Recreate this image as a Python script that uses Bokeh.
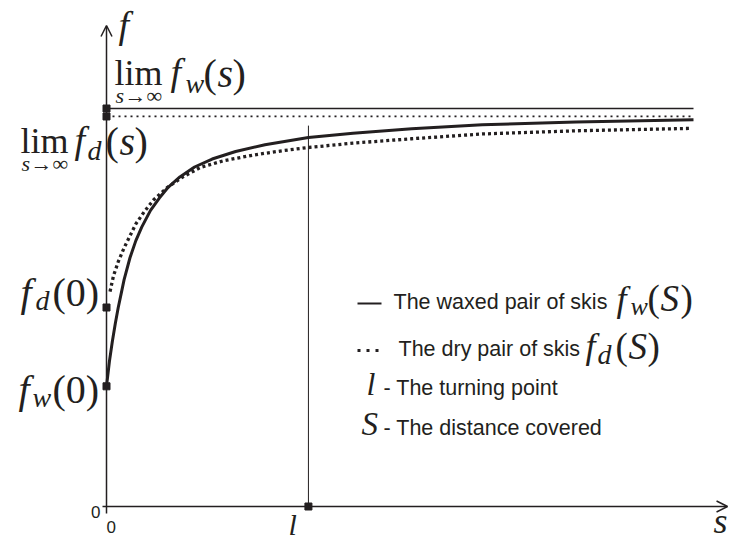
from bokeh.plotting import figure
from bokeh.models import Range1d, Arrow, OpenHead
from bokeh.embed import file_html
from bokeh.resources import INLINE
from bokeh.core.properties import value

# ---------------- data ----------------
s_waxed = [0, 0.5, 1, 1.5, 2, 2.5, 3, 4, 5, 6, 7.5, 9, 10.5, 12.5, 15, 18, 22, 27,
           34.4, 42, 52, 64, 80, 100]
f_waxed = [30.2, 36.5, 41.5, 46, 50, 53.5, 57, 62.5, 66.8, 70.2, 74.4, 77.5, 80.2,
           82.8, 85.3, 87.3, 89.2, 90.9, 92.7, 93.8, 94.9, 95.9, 96.6, 97.2]
s_dry = [0.6, 1.2, 2, 3, 4, 5, 6.5, 8, 10.4, 13, 16, 20, 25, 30, 34.4, 42, 52, 64,
         80, 99.5]
f_dry = [54, 58, 61.5, 65, 68, 71, 74.2, 77, 80.2, 82.8, 85.2, 86.9, 88.3, 89.4,
         90.2, 91.3, 92.4, 93.6, 94.4, 95.0]
lim_waxed = 100.0
lim_dry = 98.0
f_waxed_0 = 30.2
f_dry_0 = 50.0
s_turn = 34.4
turn_line_top = 95.7
s_end = 100.0
s_axis_end = 105.8
f_axis_end = 120.85
tick_labels = ["0"]

INK = "#231f20"
SERIF = "Liberation Serif"
SANS = "Liberation Sans"

W, H = 729, 544
X0 = -106 / 5.87
X1 = X0 + W / 5.87
Y1 = 506 / 3.98
Y0 = Y1 - H / 3.98


def px(xp):
    return X0 + xp / W * (X1 - X0)


def py(yp):
    return Y1 - yp / H * (Y1 - Y0)


p = figure(width=W, height=H, x_range=Range1d(X0, X1), y_range=Range1d(Y0, Y1),
           output_backend="svg", toolbar_location=None, min_border=0,
           x_axis_type=None, y_axis_type=None, outline_line_color=None,
           background_fill_color="white", border_fill_color="white")

# axes with arrows
p.add_layout(Arrow(end=OpenHead(size=11, line_width=1.5, line_color=INK),
                   x_start=0, y_start=py(513), x_end=0, y_end=f_axis_end,
                   line_width=1.5, line_color=INK))
p.add_layout(Arrow(end=OpenHead(size=11, line_width=1.5, line_color=INK),
                   x_start=px(102), y_start=0, x_end=s_axis_end, y_end=0,
                   line_width=1.5, line_color=INK))

# asymptotes
p.line([0, s_end], [lim_waxed, lim_waxed], line_width=1.5, line_color=INK)
p.line([0, s_end], [lim_dry, lim_dry], line_width=1.7, line_color=INK, line_dash="2 4")

# turning point line
p.line([s_turn, s_turn], [0, turn_line_top], line_width=1, line_color=INK)

# curves
p.line(s_waxed, f_waxed, line_width=3, line_color=INK)
p.line(s_dry, f_dry, line_width=3.3, line_color=INK, line_dash="3 3")

# markers
p.scatter([0, 0, 0, 0, s_turn], [lim_waxed, lim_dry, f_dry_0, f_waxed_0, 0],
          marker="square", size=7, color=INK)

BASE_SHIFT = 0.35


def txt(t, xp, yp, size, font=SERIF, style="normal", align="left"):
    p.text(x=[px(xp)], y=[py(yp - BASE_SHIFT * size)], text=[t], text_font=value(font),
           text_font_size=f"{size}px", text_font_style=style, text_align=align,
           text_baseline="alphabetic", text_color=INK)


# axis names
txt("f", 118, 38, 38, style="italic")
txt("l", 288, 534, 30, style="italic")
txt("s", 713, 533, 36, style="italic")

# tick labels
txt(tick_labels[0], 100, 517, 17, font=SANS, align="right")
txt(tick_labels[0], 106, 532, 17, font=SANS)

# lim f_w(s)
txt("lim", 114, 85, 36)
txt("s", 115, 103, 22, style="italic")
txt("\u2192\u221e", 124, 103, 22)
txt("f", 170, 85, 38, style="italic")
txt("w", 185, 93, 28, style="italic")
txt("(", 203, 87, 40)
txt("s", 217, 87, 40, style="italic")
txt(")", 232, 87, 40)

# lim f_d(s)
txt("lim", 20, 153, 36)
txt("s", 21, 171, 22, style="italic")
txt("\u2192\u221e", 30, 171, 22)
txt("f", 74, 153, 38, style="italic")
txt("d", 87, 160, 28, style="italic")
txt("(", 105, 155, 40)
txt("s", 119, 155, 40, style="italic")
txt(")", 134, 155, 40)

# f_d(0)
txt("f", 20, 306, 40, style="italic")
txt("d", 35, 310, 28, style="italic")
txt("(0)", 52, 306, 40)

# f_w(0)
txt("f", 18, 403, 40, style="italic")
txt("w", 32, 407, 28, style="italic")
txt("(0)", 52, 403, 40)

# legend
p.line([px(357), px(381)], [py(303), py(303)], line_width=2, line_color=INK)
txt("The waxed pair of skis", 393, 309, 21.5, font=SANS)
txt("f", 616, 311, 36, style="italic")
txt("w", 630, 315, 26, style="italic")
txt("(", 647, 311, 37)
txt("S", 660, 311, 37, style="italic")
txt(")", 680, 311, 37)

p.line([px(357), px(381)], [py(350), py(350)], line_width=3, line_color=INK, line_dash="3 6")
txt("The dry pair of skis", 398, 356, 21.5, font=SANS)
txt("f", 585, 358, 36, style="italic")
txt("d", 597, 364, 28, style="italic")
txt("(", 615, 359, 37)
txt("S", 628, 359, 37, style="italic")
txt(")", 647, 359, 37)

txt("l", 366, 395, 32, style="italic")
txt("- The turning point", 383, 395, 21.5, font=SANS)

txt("S", 361, 435, 33, style="italic")
txt("- The distance covered", 383, 435, 21.5, font=SANS)

open("out.html", "w").write(file_html(p, INLINE))
